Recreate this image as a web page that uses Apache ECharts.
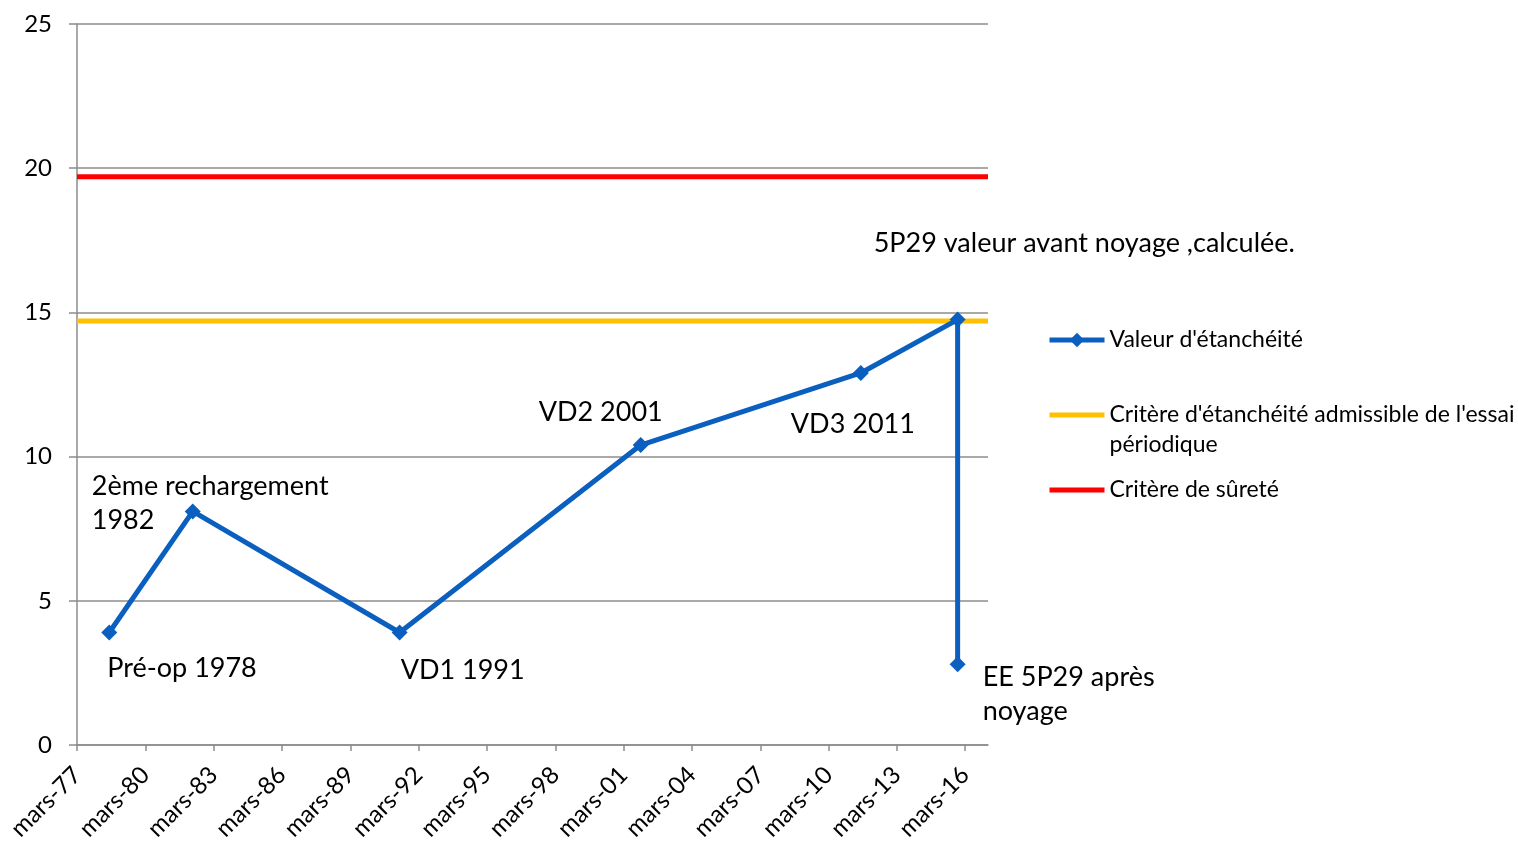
<!DOCTYPE html>
<html>
<head>
<meta charset="utf-8">
<script src="https://cdn.jsdelivr.net/npm/echarts@6/dist/echarts.min.js"></script>
<style>
  html, body { margin: 0; padding: 0; background: #fff; }
  #chart { width: 1518px; height: 842px; }
</style>
</head>
<body>
<div id="chart"></div>
<script>
const dates = ['1978-08', '1982-04', '1991-05', '2001-12', '2011-08', '2015-11', '2015-11'];
const valeurs = [3.9, 8.1, 3.9, 10.4, 12.9, 14.75, 2.8];
const annotations = [
  'Pré-op 1978',
  '2ème rechargement\n1982',
  'VD1 1991',
  'VD2 2001',
  'VD3 2011',
  '5P29 valeur avant noyage ,calculée.',
  'EE 5P29 après\nnoyage'
];
const critereEssai = 14.7;
const critereSurete = 19.7;
const tickYears = [1977, 1980, 1983, 1986, 1989, 1992, 1995, 1998, 2001, 2004, 2007, 2010, 2013, 2016];

// placement des étiquettes (décalage depuis le point)
const labelOffsets = [[-2, 36], [-101, -8], [1, 38], [-102, -33], [-70, 51], [-84, -76], [25, 30]];

const FONT = 'Lato';
// x en mois depuis mars 1977
function toMonths(s) {
  const p = s.split('-');
  return (parseInt(p[0]) - 1977) * 12 + (parseInt(p[1]) - 3);
}
const xMin = 0, xMax = 480;
const tickValues = tickYears.map(y => (y - 1977) * 12);

const pts = dates.map((d, i) => ({
  value: [toMonths(d), valeurs[i]],
  label: {
    show: true,
    formatter: annotations[i],
    position: 'inside',
    offset: labelOffsets[i],
    align: 'left',
    verticalAlign: 'middle',
    color: '#000',
    fontFamily: FONT,
    fontSize: 27,
    lineHeight: 34
  }
}));

const chart = echarts.init(document.getElementById('chart'));
chart.setOption({
  animation: false,
  textStyle: { fontFamily: FONT },
  grid: { left: 77, right: 530, top: 24, bottom: 97, containLabel: false, outerBoundsMode: 'none' },
  legend: {
    orient: 'vertical',
    left: 1047,
    top: 325,
    padding: 0,
    itemWidth: 55,
    itemHeight: 18,
    itemGap: 15,
    lineStyle: { width: 5 },
    textStyle: { fontFamily: FONT, fontSize: 23, color: '#000', lineHeight: 30 },
    // ligne vide en tête pour aligner la 1re ligne du texte sur l'icône
    formatter: name => (name.indexOf('\n') >= 0 ? '\n' + name : name),
    data: [
      "Valeur d'étanchéité",
      "Critère d'étanchéité admissible de l'essai\npériodique",
      'Critère de sûreté'
    ]
  },
  xAxis: {
    type: 'value',
    min: xMin,
    max: xMax,
    interval: 36,
    splitLine: { show: false },
    axisLine: { onZero: false, lineStyle: { color: '#8c8c8c', width: 1.5 } },
    axisTick: { show: true, customValues: tickValues, length: 6, lineStyle: { color: '#8c8c8c', width: 1.5 } },
    axisLabel: {
      customValues: tickValues,
      rotate: 45,
      margin: 26,
      fontSize: 24,
      color: '#000',
      fontFamily: FONT,
      formatter: v => 'mars-' + String(1977 + Math.round(v / 12)).slice(2)
    }
  },
  yAxis: {
    type: 'value',
    min: 0,
    max: 25,
    interval: 5,
    axisLine: { show: true, lineStyle: { color: '#8c8c8c', width: 1.5 } },
    axisTick: { show: true, length: 8, lineStyle: { color: '#8c8c8c', width: 1.5 } },
    splitLine: { lineStyle: { color: '#8c8c8c', width: 1.5 } },
    axisLabel: { margin: 25, fontSize: 24, color: '#000', fontFamily: FONT }
  },
  series: [
    {
      name: "Valeur d'étanchéité",
      type: 'line',
      data: pts,
      symbol: 'diamond',
      symbolSize: 16,
      itemStyle: { color: '#0a5fbf' },
      lineStyle: { color: '#0a5fbf', width: 5 },
      z: 5
    },
    {
      name: "Critère d'étanchéité admissible de l'essai\npériodique",
      type: 'line',
      data: [[xMin, critereEssai], [xMax, critereEssai]],
      symbol: 'none',
      itemStyle: { color: '#ffc000', opacity: 0 },
      lineStyle: { color: '#ffc000', width: 5 },
      z: 3
    },
    {
      name: 'Critère de sûreté',
      type: 'line',
      data: [[xMin, critereSurete], [xMax, critereSurete]],
      symbol: 'none',
      itemStyle: { color: '#ff0000', opacity: 0 },
      lineStyle: { color: '#ff0000', width: 5 },
      z: 3
    }
  ]
});
</script>
</body>
</html>
